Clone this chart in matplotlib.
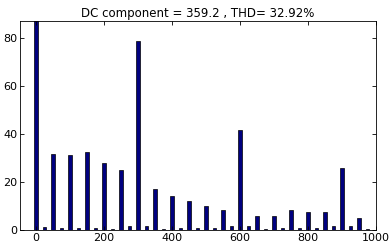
import numpy as np
import matplotlib
matplotlib.use("Agg")
import matplotlib.pyplot as plt

# harmonic spectrum, main bars every 50, small in-between bars every 25
main_freq = [0, 50, 100, 150, 200, 250, 300, 350, 400, 450,
             500, 550, 600, 650, 700, 750, 800, 850, 900, 950]
main_amp = [90, 31.5, 31.2, 32.4, 27.9, 25.0, 78.8, 17.0, 14.1, 12.0,
            10.0, 8.3, 41.7, 5.8, 5.8, 8.3, 7.5, 7.5, 25.8, 5.0]
side_freq = [25, 75, 125, 175, 225, 275, 325, 375, 425, 475,
             525, 575, 625, 675, 725, 775, 825, 875, 925, 975]
side_amp = [1.2, 0.8, 0.8, 0.8, 0.4, 1.7, 1.6, 0.4, 0.8, 0.8,
            0.8, 1.6, 1.6, 0.4, 0.8, 0.8, 0.8, 1.6, 1.6, 0.4]

title = "DC component = 359.2 , THD= 32.92%"

fig = plt.figure(figsize=(3.92, 2.49), dpi=100)
ax = fig.add_axes([0.051, 0.076, 0.908, 0.840])

ax.bar(main_freq, main_amp, width=10, color="#00007f", edgecolor="black", linewidth=0.5)
ax.bar(side_freq, side_amp, width=10, color="#00007f", edgecolor="black", linewidth=0.5)

ax.set_xlim(-47, 1000)
ax.set_ylim(0, 87)
ax.set_xticks([0, 200, 400, 600, 800, 1000])
ax.set_yticks([0, 20, 40, 60, 80])
ax.tick_params(direction="in", top=True, right=True, labelsize=8, length=3, width=0.6, pad=2)
for s in ax.spines.values():
    s.set_linewidth(0.6)
ax.set_title(title, fontsize=8.5, pad=3)

fig.savefig("out.png", dpi=100)
